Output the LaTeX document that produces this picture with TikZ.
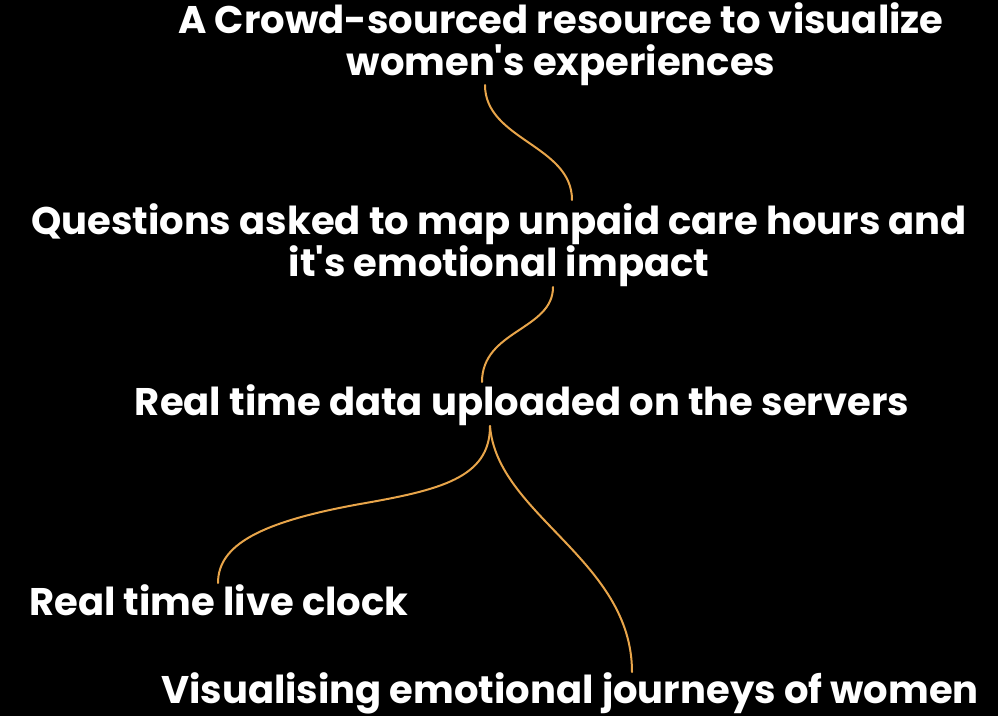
\documentclass[tikz,border=0pt]{standalone}
\usepackage{fontspec}
\setmainfont{Poppins}
\begin{document}
\begin{tikzpicture}[x=1pt,y=-1pt]
\definecolor{linkc}{HTML}{E8A54A}
\tikzset{
  lbl/.style={text=white,font=\fontsize{38.5}{42}\selectfont\bfseries,align=center,inner sep=0pt,anchor=base},
  link/.style={draw=linkc,line width=2pt,line cap=round}}
\fill[black] (0,0) rectangle (998,716);
\useasboundingbox (0,0) rectangle (998,716);
\node[lbl] (t1) at (561,75) {A Crowd-sourced resource to visualize\\women\textquotesingle s experiences};
\node[lbl] (t2) at (499,276) {Questions asked to map unpaid care hours and\\it\textquotesingle s emotional impact};
\node[lbl] (t3) at (522,415) {Real time data uploaded on the servers};
\node[lbl] (t4) at (219,615) {Real time live clock};
\node[lbl] (t5) at (570,703) {Visualising emotional journeys of women};
\coordinate (a1) at (485,85);
\coordinate (b1) at (572,200);
\coordinate (a2) at (553,287);
\coordinate (b2) at (482,382);
\coordinate (a3) at (490,426);
\coordinate (b3) at (218,583);
\coordinate (b4) at (632,672);
\draw[link] (a1) .. controls (485,140) and (572,145) .. (b1);
\draw[link] (a2) .. controls (553,330) and (482,330) .. (b2);
\draw[link] (a3) .. controls (490,478) and (440,490) .. (360,504) .. controls (260,522) and (218,545) .. (b3);
\draw[link] (a3) .. controls (497,515) and (632,560) .. (b4);
\end{tikzpicture}
\end{document}
